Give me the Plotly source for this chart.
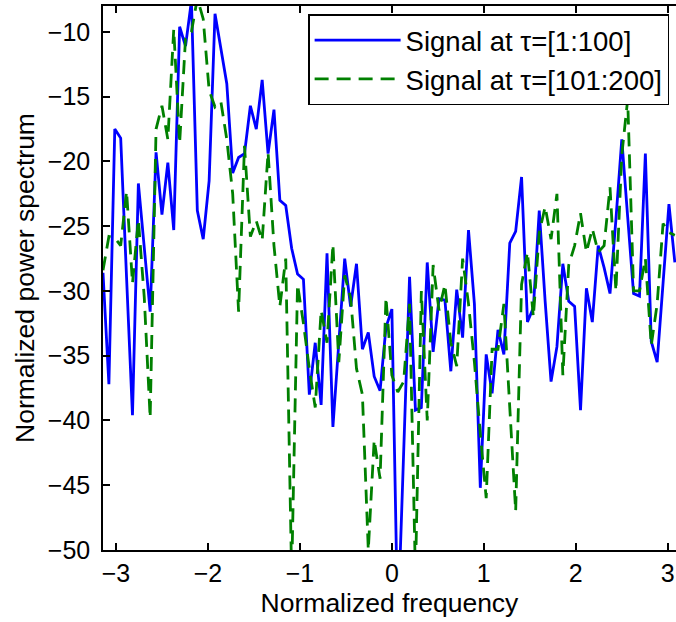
import numpy as np
import plotly.graph_objects as go

N_POINTS = 98
freq = -np.pi + 2 * np.pi * np.arange(N_POINTS) / N_POINTS

signal_1_100 = [
    -28.6, -37.2, -17.5, -18.2, -29.0, -39.6, -21.7, -26.5, -31.6, -19.3,
    -24.1, -20.1, -25.3, -9.6, -11.1, -7.6, -23.8, -26.0, -21.5, -8.6,
    -11.3, -14.0, -20.9, -19.7, -19.4, -15.7, -17.5, -13.7, -19.4, -16.0,
    -23.0, -23.4, -26.7, -28.7, -29.1, -38.0, -34.0, -38.8, -27.1, -40.5,
    -34.0, -27.5, -31.2, -27.9, -34.5, -33.2, -36.6, -37.7, -32.8, -31.4,
    -56.0, -43.0, -28.9, -39.2, -39.0, -27.8, -34.7, -30.6, -30.7, -36.2,
    -29.9, -33.6, -25.3, -31.0, -45.2, -34.9, -37.9, -33.0, -34.9, -26.3,
    -25.4, -21.2, -32.4, -31.3, -23.8, -30.8, -37.0, -34.3, -27.9, -30.8,
    -31.2, -39.2, -29.8, -32.4, -26.5, -28.2, -30.2, -24.5, -18.3, -24.3,
    -30.2, -30.4, -19.4, -33.9, -35.5, -29.4, -23.3, -27.8,
]

signal_101_200 = [
    -28.4, -25.8, -25.9, -26.5, -22.3, -29.4, -24.5, -30.5, -39.8, -17.5,
    -15.7, -18.3, -9.8, -18.6, -10.5, -10.0, -7.4, -9.0, -14.5, -15.8,
    -15.4, -18.3, -22.5, -31.6, -18.8, -25.8, -24.6, -26.1, -19.3, -26.5,
    -31.2, -27.5, -52.0, -29.5, -32.5, -36.0, -39.0, -31.5, -34.0, -26.4,
    -35.5, -28.8, -30.5, -36.0, -38.0, -50.0, -41.5, -44.5, -30.5, -36.5,
    -37.8, -37.0, -31.0, -52.0, -30.0, -40.0, -28.0, -31.5, -29.5, -34.0,
    -35.8, -27.5, -31.0, -35.5, -41.0, -46.0, -34.5, -34.5, -31.0, -39.0,
    -47.0, -29.5, -27.0, -32.0, -25.5, -23.5, -26.0, -22.5, -36.5, -28.0,
    -26.5, -24.0, -27.0, -25.2, -27.0, -26.5, -22.0, -30.0, -19.5, -15.2,
    -30.0, -30.0, -27.5, -34.2, -31.0, -24.8, -25.5, -25.7,
]

x_ticks = [-3, -2, -1, 0, 1, 2, 3]
y_ticks = [-50, -45, -40, -35, -30, -25, -20, -15, -10]

FONT = "Liberation Sans, Arial, Helvetica, sans-serif"

fig = go.Figure()
fig.add_trace(go.Scatter(
    x=freq, y=signal_1_100, mode="lines",
    name="Signal at \u03c4=[1:100]",
    line=dict(color="#0000ff", width=2.8),
))
fig.add_trace(go.Scatter(
    x=freq, y=signal_101_200, mode="lines",
    name="Signal at \u03c4=[101:200]",
    line=dict(color="#008000", width=2.8, dash="14px,8px"),
))

fig.update_layout(
    width=676, height=622,
    margin=dict(l=103, r=0, t=6, b=72),
    paper_bgcolor="white", plot_bgcolor="white",
    font=dict(family=FONT, size=25, color="black"),
    showlegend=True,
    legend=dict(
        x=0.988, xanchor="right", y=0.985, yanchor="top",
        bgcolor="white", bordercolor="black", borderwidth=1.5,
        font=dict(family=FONT, size=27.5, color="black"),
        itemwidth=86, tracegroupgap=0,
    ),
)
fig.update_xaxes(
    range=[-np.pi, 3.09],
    tickvals=x_ticks,
    ticktext=["\u2212" + str(-v) if v < 0 else str(v) for v in x_ticks],
    ticks="inside", ticklen=7, tickwidth=1.5, tickcolor="black",
    showline=True, linecolor="black", linewidth=1.5, mirror="ticks",
    showgrid=False, zeroline=False,
    tickfont=dict(family=FONT, size=25),
    title=dict(text="Normalized frequency", font=dict(family=FONT, size=26.5), standoff=8),
)
fig.update_yaxes(
    range=[-50, -8],
    tickvals=y_ticks,
    ticktext=["\u2212" + str(-v) for v in y_ticks],
    ticks="inside", ticklen=7, tickwidth=1.5, tickcolor="black",
    showline=True, linecolor="black", linewidth=1.5, mirror=False,
    showgrid=False, zeroline=False,
    tickfont=dict(family=FONT, size=25),
    ticklabelstandoff=6,
    title=dict(text="Normalized power spectrum", font=dict(family=FONT, size=26.5), standoff=6),
)

fig.write_html("out.html")
